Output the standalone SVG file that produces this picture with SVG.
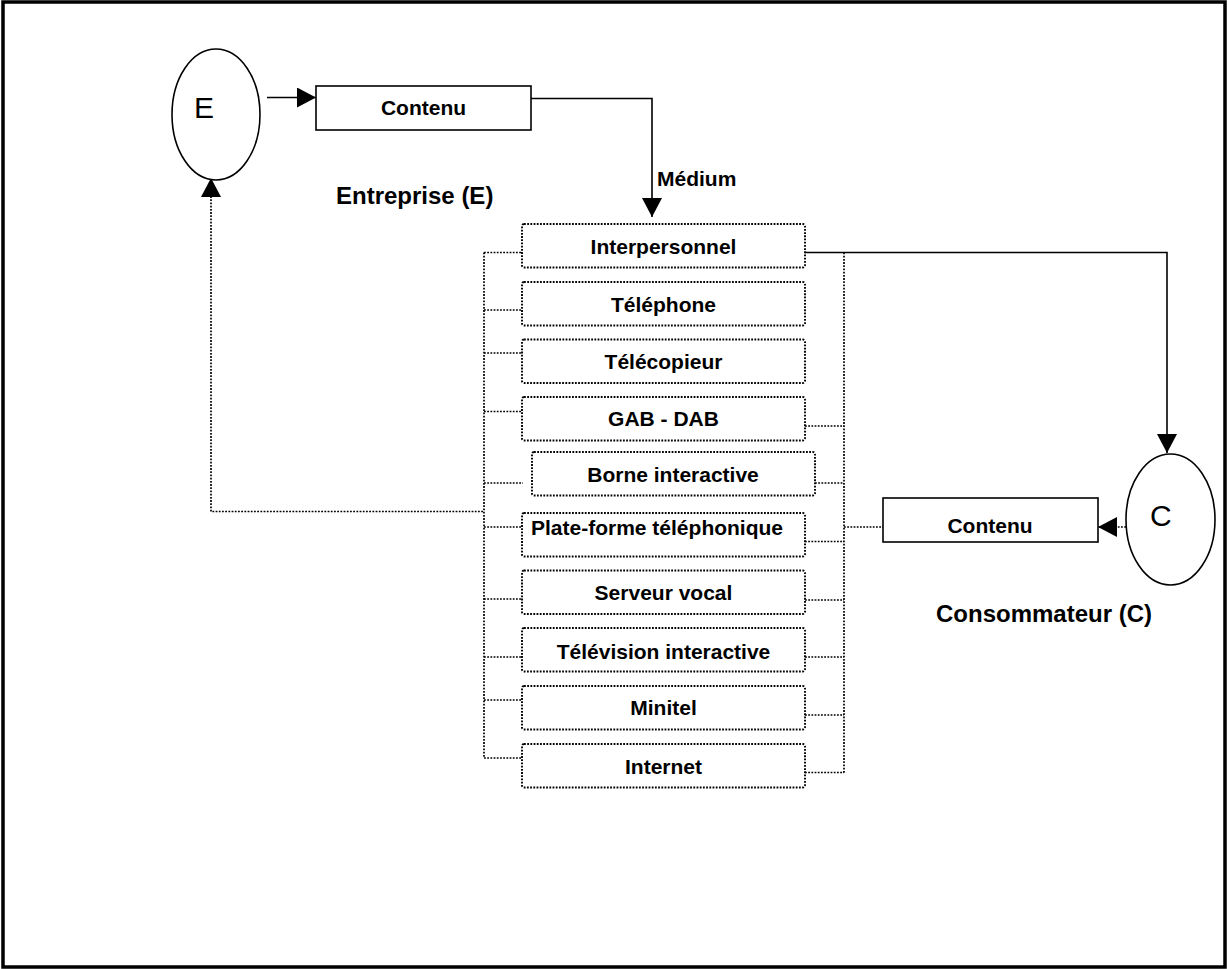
<svg xmlns="http://www.w3.org/2000/svg" width="1228" height="969" viewBox="0 0 1228 969">
<defs>
<style>
.frame{fill:#fff;stroke:#000;stroke-width:3.5}
.solid{fill:none;stroke:#000;stroke-width:1.6}
.dot{fill:none;stroke:#000;stroke-width:1.7;stroke-dasharray:1.8 1.4}
.box{fill:#fff;stroke:#000;stroke-width:1.6}
.dbox{fill:#fff;stroke:#000;stroke-width:1.9;stroke-dasharray:1.8 1.4}
.ell{fill:#fff;stroke:#000;stroke-width:1.6}
.lbl{font-family:"Liberation Sans",Arial,sans-serif;font-weight:bold;font-size:21px;fill:#000}
.big{font-family:"Liberation Sans",Arial,sans-serif;font-weight:bold;font-size:24px;fill:#000}
.let{font-family:"Liberation Sans",Arial,sans-serif;font-size:30px;fill:#000}
</style>
<marker id="ah" markerWidth="20" markerHeight="20" refX="19" refY="10" orient="auto" markerUnits="userSpaceOnUse">
<path d="M0,0 L19,10 L0,20 Z" fill="#000"/>
</marker>
</defs>
<rect class="frame" x="3" y="2" width="1222" height="965"/>

<g id="connectors">
<line class="solid" x1="267" y1="97.5" x2="316" y2="97.5" marker-end="url(#ah)"/>
<polyline class="solid" points="531,98.5 652,98.5 652,217" marker-end="url(#ah)"/>
<polyline class="solid" points="805,252.5 1167,252.5 1167,453" marker-end="url(#ah)"/>
<line class="dot" x1="1126" y1="527" x2="1098" y2="527" marker-end="url(#ah)"/>
<polyline class="dot" points="483,511.5 211,511.5 211,178" marker-end="url(#ah)"/>
<line class="dot" x1="484" y1="252.5" x2="484" y2="758"/>
<line class="dot" x1="844" y1="252.5" x2="844" y2="773"/>
<line class="dot" x1="844" y1="527" x2="883" y2="527"/>
<g>
<line class="dot" x1="484" y1="252.5" x2="522" y2="252.5"/>
<line class="dot" x1="484" y1="310" x2="522" y2="310"/>
<line class="dot" x1="484" y1="353" x2="522" y2="353"/>
<line class="dot" x1="484" y1="411.5" x2="522" y2="411.5"/>
<line class="dot" x1="484" y1="483" x2="523" y2="483"/>
<line class="dot" x1="484" y1="527" x2="522" y2="527"/>
<line class="dot" x1="484" y1="599" x2="522" y2="599"/>
<line class="dot" x1="484" y1="657" x2="522" y2="657"/>
<line class="dot" x1="484" y1="700" x2="522" y2="700"/>
<line class="dot" x1="484" y1="758" x2="522" y2="758"/>
</g>
<g>
<line class="dot" x1="805" y1="426" x2="844" y2="426"/>
<line class="dot" x1="815" y1="483" x2="844" y2="483"/>
<line class="dot" x1="805" y1="541.5" x2="844" y2="541.5"/>
<line class="dot" x1="805" y1="600" x2="844" y2="600"/>
<line class="dot" x1="805" y1="657" x2="844" y2="657"/>
<line class="dot" x1="805" y1="715" x2="844" y2="715"/>
<line class="dot" x1="805" y1="772.5" x2="844" y2="772.5"/>
</g>
</g>

<g id="nodeE">
<ellipse class="ell" cx="216" cy="114.5" rx="44" ry="65.5"/>
<text class="let" x="194" y="118">E</text>
</g>
<g id="labelE">
<text class="big" x="336" y="204">Entreprise (E)</text>
</g>
<g id="contenuE">
<rect class="box" x="316" y="86" width="215" height="44"/>
<text class="lbl" x="423.5" y="115" text-anchor="middle">Contenu</text>
</g>
<g id="medium">
<text class="lbl" x="657" y="186">Médium</text>
</g>

<g id="m-interpersonnel"><rect class="dbox" x="522" y="224" width="283" height="43.5" rx="2"/><text class="lbl" x="663.5" y="254" text-anchor="middle">Interpersonnel</text></g>
<g id="m-telephone"><rect class="dbox" x="522" y="282" width="283" height="43.5" rx="2"/><text class="lbl" x="663.5" y="311.5" text-anchor="middle">Téléphone</text></g>
<g id="m-telecopieur"><rect class="dbox" x="522" y="339.5" width="283" height="43.5" rx="2"/><text class="lbl" x="663.5" y="368.5" text-anchor="middle">Télécopieur</text></g>
<g id="m-gab"><rect class="dbox" x="522" y="397" width="283" height="43.5" rx="2"/><text class="lbl" x="663.5" y="426" text-anchor="middle">GAB - DAB</text></g>
<g id="m-borne"><rect class="dbox" x="532" y="452" width="283" height="43.5" rx="2"/><text class="lbl" x="673" y="481.5" text-anchor="middle">Borne interactive</text></g>
<g id="m-plateforme"><rect class="dbox" x="522" y="513" width="283" height="43.5" rx="2"/><text class="lbl" x="531" y="535">Plate-forme téléphonique</text></g>
<g id="m-serveur"><rect class="dbox" x="522" y="570.5" width="283" height="43.5" rx="2"/><text class="lbl" x="663.5" y="600" text-anchor="middle">Serveur vocal</text></g>
<g id="m-television"><rect class="dbox" x="522" y="628" width="283" height="43.5" rx="2"/><text class="lbl" x="663.5" y="659" text-anchor="middle">Télévision interactive</text></g>
<g id="m-minitel"><rect class="dbox" x="522" y="686" width="283" height="43.5" rx="2"/><text class="lbl" x="663.5" y="715" text-anchor="middle">Minitel</text></g>
<g id="m-internet"><rect class="dbox" x="522" y="744" width="283" height="43.5" rx="2"/><text class="lbl" x="663.5" y="774" text-anchor="middle">Internet</text></g>

<g id="nodeC">
<ellipse class="ell" cx="1170.5" cy="519.5" rx="44.5" ry="65.5"/>
<text class="let" x="1150" y="526">C</text>
</g>
<g id="contenuC">
<rect class="box" x="883" y="498" width="215" height="44"/>
<text class="lbl" x="990" y="533" text-anchor="middle">Contenu</text>
</g>
<g id="labelC">
<text class="big" x="936" y="622">Consommateur (C)</text>
</g>
</svg>
